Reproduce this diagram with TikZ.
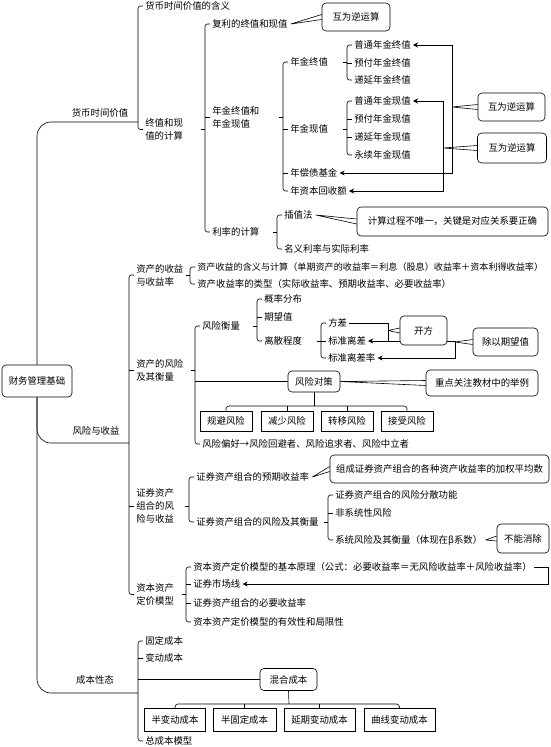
\documentclass[tikz,border=0pt]{standalone}
\usepackage{fontspec}
\setmainfont{Noto Sans CJK SC}[RawFeature={-chws;-palt;-halt}]
\usepackage{tikz}
\usetikzlibrary{arrows.meta}

\tikzset{
  txt/.style={anchor=west, inner sep=0pt, align=left},
  rbox/.style={draw, rounded corners=4pt, inner sep=0pt, fill=white},
  sbox/.style={draw, inner sep=0pt, fill=white},
  brc/.style={rounded corners=2.5pt},
}
% brace from top child to bottom child, #3 names the brace
\newcommand{\leafbrace}[3]{%
  \path ([xshift=-7pt]#1.west) coordinate (#3) ([xshift=-7pt]#2.west) coordinate (#3b);
  \draw[brc] ([xshift=-2pt]#1.west) -- (#3) -- (#3b) -- ([xshift=-2pt]#2.west);}
\newcommand{\midtick}[2]{\draw ([xshift=-2pt]#2.west) -- (#1 |- #2.west);}
\newcommand{\parenttick}[2]{\draw (#1 |- #2.west) -- ++(-4pt,0);}
\newcommand{\calltail}[2]{\draw (#1) -- ([yshift=2.5pt]#2.west) (#1) -- ([yshift=-2.5pt]#2.west);}

\begin{document}
\begin{tikzpicture}[x=1pt, y=-1pt, line width=0.6pt,
    font=\fontsize{9.4}{13}\selectfont, >={Stealth[length=5pt,width=5pt]}]
  \useasboundingbox (0,0) rectangle (551,747);

  % root
  \node[rbox, minimum width=70, minimum height=32] (root) at (37,381) {财务管理基础};
  \node (n1) at (100,113) {货币时间价值};
  \node (n2) at (96,431) {风险与收益};
  \node (n3) at (95,680) {成本性态};
  \coordinate (mj) at (138,122);
  \coordinate (rj) at (129,443);
  \coordinate (cj) at (138,693);
  \draw[rounded corners=14pt] (root.north) |- (mj);
  \draw[rounded corners=14pt] (root.south) |- (rj);
  \draw[rounded corners=14pt] (root.south) |- (cj);

  % money
  \node[txt] (m1) at (145,6) {货币时间价值的含义};
  \node[txt] (m2) at (145,129.5) {终值和现\\值的计算};
  \leafbrace{m1}{m2}{bm}

  \node[txt] (c1) at (212,24) {复利的终值和现值};
  \node[txt] (c2) at (212,117.5) {年金终值和\\年金现值};
  \node[txt] (c3) at (212,232) {利率的计算};
  \leafbrace{c1}{c3}{bc} \midtick{bc}{c2} \parenttick{bc}{m2}
  \node[rbox, minimum width=68, minimum height=28] (r1) at (356,17) {互为逆运算};
  \calltail{[xshift=3pt]c1.east}{r1}

  \node[txt] (d1) at (290,62) {年金终值};
  \node[txt] (d2) at (290,129) {年金现值};
  \node[txt] (d3) at (290,173) {年偿债基金};
  \node[txt] (d4) at (290,191) {年资本回收额};
  \leafbrace{d1}{d4}{bd} \midtick{bd}{d2} \midtick{bd}{d3} \parenttick{bd}{c2}

  \node[txt] (e1) at (354,45) {普通年金终值};
  \node[txt] (e2) at (354,63) {预付年金终值};
  \node[txt] (e3) at (354,80) {递延年金终值};
  \leafbrace{e1}{e3}{be1} \midtick{be1}{e2} \parenttick{be1}{d1}
  \node[txt] (e4) at (354,101) {普通年金现值};
  \node[txt] (e5) at (354,119) {预付年金现值};
  \node[txt] (e6) at (354,137) {递延年金现值};
  \node[txt] (e7) at (354,155) {永续年金现值};
  \leafbrace{e4}{e7}{be2} \midtick{be2}{e5} \midtick{be2}{e6} \parenttick{be2}{d2}

  \coordinate (v1) at (452,173);
  \coordinate (v2) at (443,191);
  \draw[<->] ([xshift=2pt]e1.east) -| (v1) -- ([xshift=2pt]d3.east);
  \draw[<->] ([xshift=2pt]e4.east) -| (v2) -- ([xshift=2pt]d4.east);
  \node[rbox, minimum width=67, minimum height=28] (r2) at (511.5,107) {互为逆运算};
  \node[rbox, minimum width=69, minimum height=30] (r3) at (512,148) {互为逆运算};
  \calltail{v1 |- r2.west}{r2}
  \calltail{v2 |- r3.west}{r3}

  \node[txt] (f1) at (284,215) {插值法};
  \node[txt] (f2) at (284,249) {名义利率与实际利率};
  \leafbrace{f1}{f2}{bf} \parenttick{bf}{c3}
  \node[rbox, minimum width=191, minimum height=29] (r4) at (452.5,221.5) {计算过程不唯一，关键是对应关系要正确};
  \calltail{[xshift=3pt]f1.east}{r4}

  % risk
  \node[txt] (g1) at (136,275) {资产的收益\\与收益率};
  \node[txt] (g2) at (136,370) {资产的风险\\及其衡量};
  \node[txt] (g3) at (136,506) {证券资产\\组合的风\\险与收益};
  \node[txt] (g4) at (136,594.5) {资本资产\\定价模型};
  \leafbrace{g1}{g4}{bg} \midtick{bg}{g2} \midtick{bg}{g3}

  \node[txt, font=\fontsize{9.1}{13}\selectfont] (h1) at (197,267) {资产收益的含义与计算（单期资产的收益率＝利息（股息）收益率＋资本利得收益率）};
  \node[txt] (h2) at (197,284) {资产收益率的类型（实际收益率、预期收益率、必要收益率）};
  \leafbrace{h1}{h2}{bh} \parenttick{bh}{g1}

  \node[txt] (i1) at (202,326) {风险衡量};
  \node[txt] (i3) at (202,444) {风险偏好→风险回避者、风险追求者、风险中立者};
  \leafbrace{i1}{i3}{bi} \parenttick{bi}{g2}
  \node[rbox, minimum width=52, minimum height=21] (j0) at (314,381.5) {风险对策};
  \draw (bi |- j0.west) -- (j0.west);
  \node[sbox, minimum width=52, minimum height=20] (j1) at (226,421) {规避风险};
  \node[sbox, minimum width=52, minimum height=20] (j2) at (287,421) {减少风险};
  \node[sbox, minimum width=52, minimum height=20] (j3) at (347,421) {转移风险};
  \node[sbox, minimum width=52, minimum height=20] (j4) at (407,421) {接受风险};
  \coordinate (jb) at (314,406);
  \draw[rounded corners=3pt] (j1.north) |- (jb) -| (j4.north);
  \draw (j0.south) -- (jb);
  \draw (j2.north) -- (j2.north |- jb);
  \draw (j3.north) -- (j3.north |- jb);
  \node[rbox, minimum width=112, minimum height=26] (j5) at (482,383) {重点关注教材中的举例};
  \calltail{j0.east}{j5}

  \node[txt] (k1) at (264,299) {概率分布};
  \node[txt] (k2) at (264,317) {期望值};
  \node[txt] (k3) at (264,341) {离散程度};
  \leafbrace{k1}{k3}{bk} \midtick{bk}{k2} \parenttick{bk}{i1}

  \node[txt] (l1) at (328,323) {方差};
  \node[txt] (l2) at (328,341) {标准离差};
  \node[txt] (l3) at (328,358) {标准离差率};
  \leafbrace{l1}{l3}{bl} \midtick{bl}{l2} \parenttick{bl}{k3}
  \coordinate (v3) at (388,341);
  \coordinate (v4) at (455,358);
  \draw[->] ([xshift=2pt]l1.east) -| (v3) -- ([xshift=2pt]l2.east);
  \draw[->] (v3) -| (v4) -- ([xshift=2pt]l3.east);
  \node[rbox, minimum width=47, minimum height=29] (o1) at (423.5,330.5) {开方};
  \calltail{v3 |- o1.west}{o1}
  \node[rbox, minimum width=65, minimum height=28] (o2) at (505.5,342) {除以期望值};
  \calltail{v4 |- o2.west}{o2}

  \node[txt] (p1) at (196,477) {证券资产组合的预期收益率};
  \node[txt] (p2) at (196,522) {证券资产组合的风险及其衡量};
  \leafbrace{p1}{p2}{bp} \parenttick{bp}{g3}
  \node[rbox, minimum width=219, minimum height=28] (q1) at (439.5,469) {组成证券资产组合的各种资产收益率的加权平均数};
  \calltail{[xshift=3pt]p1.east}{q1}

  \node[txt] (s1) at (335,495) {证券资产组合的风险分散功能};
  \node[txt] (s2) at (335,513) {非系统性风险};
  \node[txt] (s3) at (335,540) {系统风险及其衡量（体现在β系数）};
  \leafbrace{s1}{s3}{bs} \midtick{bs}{s2} \parenttick{bs}{p2}
  \node[rbox, minimum width=52, minimum height=29] (q2) at (523,538.5) {不能消除};
  \calltail{[xshift=3pt]s3.east}{q2}

  \node[txt] (t1) at (193,567) {资本资产定价模型的基本原理（公式：必要收益率＝无风险收益率＋风险收益率）};
  \node[txt] (t2) at (193,584) {证券市场线};
  \node[txt] (t3) at (193,603) {证券资产组合的必要收益率};
  \node[txt] (t4) at (193,622) {资本资产定价模型的有效性和局限性};
  \leafbrace{t1}{t4}{bt} \midtick{bt}{t2} \midtick{bt}{t3} \parenttick{bt}{g4}
  \coordinate (v5) at (548,584);
  \draw[->] ([xshift=2pt]t1.east) -| (v5) -- ([xshift=2pt]t2.east);

  % cost
  \node[txt] (u1) at (145,641) {固定成本};
  \node[txt] (u2) at (145,658) {变动成本};
  \node[txt] (u4) at (145,741) {总成本模型};
  \leafbrace{u1}{u4}{bu} \midtick{bu}{u2}
  \node[rbox, minimum width=57, minimum height=22] (w0) at (288.5,679.5) {混合成本};
  \draw (bu |- w0.west) -- (w0.west);
  \node[sbox, minimum width=61, minimum height=23] (w1) at (175,720) {半变动成本};
  \node[sbox, minimum width=63, minimum height=23] (w2) at (244.5,720) {半固定成本};
  \node[sbox, minimum width=71, minimum height=23] (w3) at (319.5,720) {延期变动成本};
  \node[sbox, minimum width=71, minimum height=23] (w4) at (399.5,720) {曲线变动成本};
  \coordinate (wb) at (289,704);
  \draw[rounded corners=3pt] (w1.north) |- (wb) -| (w4.north);
  \draw (w0.south) -- (wb);
  \draw (w2.north) -- (w2.north |- wb);
  \draw (w3.north) -- (w3.north |- wb);
\end{tikzpicture}
\end{document}
